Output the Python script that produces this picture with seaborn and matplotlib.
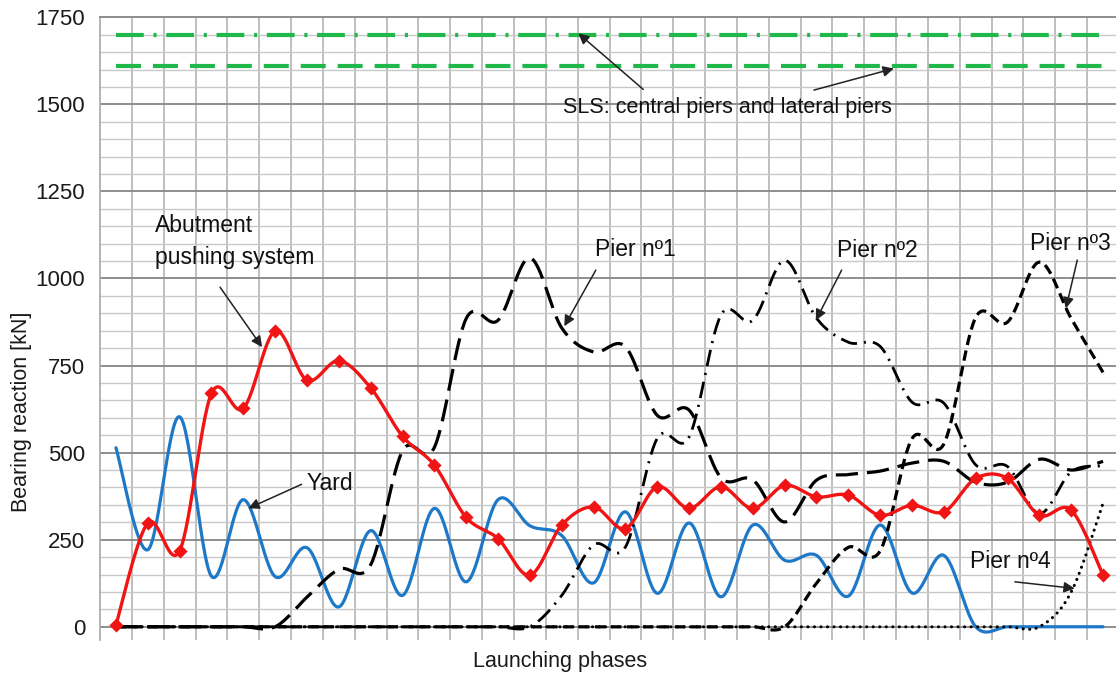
import numpy as np
import matplotlib
matplotlib.use("Agg")
import matplotlib.pyplot as plt
import seaborn as sns
from matplotlib.ticker import MultipleLocator, FixedLocator

# ---------------- data ----------------
phases = list(range(32))
abutment = [5, 298, 218, 670, 627, 849, 708, 764, 686, 547, 464, 314, 253, 148, 292, 344,
            282, 402, 340, 402, 340, 406, 373, 378, 320, 349, 330, 426, 426, 320, 335, 148]
yard = [514, 221, 603, 145, 365, 144, 227, 57, 276, 90, 340, 129, 365, 290, 262, 126,
        330, 96, 298, 86, 292, 191, 205, 88, 292, 97, 205, 0, 0, 0, 0, 0]
pier1 = [0, 0, 0, 0, 0, 0, 85, 165, 178, 505, 515, 885, 880, 1059, 858, 789,
         804, 607, 622, 428, 422, 301, 421, 437, 447, 470, 475, 415, 415, 481, 450, 475]
pier2 = [0, 0, 0, 0, 0, 0, 0, 0, 0, 0, 0, 0, 0, 0, 90, 235,
         229, 541, 545, 895, 880, 1052, 886, 817, 805, 645, 642, 465, 460, 325, 445, 462]
pier3 = [0, 0, 0, 0, 0, 0, 0, 0, 0, 0, 0, 0, 0, 0, 0, 0,
         0, 0, 0, 0, 0, 0, 125, 228, 218, 540, 525, 888, 875, 1047, 885, 730]
pier4 = [0] * 30 + [100, 355]
sls_central = 1700
sls_lateral = 1610
y_ticks = [0, 250, 500, 750, 1000, 1250, 1500, 1750]
y_label = "Bearing reaction [kN]"
x_label = "Launching phases"


def smooth(x, y, n=30):
    """Excel-like smoothed line: cubic Bezier through each data point."""
    x = np.asarray(x, float)
    y = np.asarray(y, float)
    P = np.column_stack([x, y])
    Pe = np.vstack([P[0], P, P[-1]])
    t = np.linspace(0, 1, n, endpoint=False)[:, None]
    out = []
    for i in range(len(P) - 1):
        p0 = Pe[i + 1]
        p3 = Pe[i + 2]
        c1 = p0 + (Pe[i + 2] - Pe[i]) / 6.0
        c2 = p3 - (Pe[i + 3] - Pe[i + 1]) / 6.0
        seg = ((1 - t) ** 3) * p0 + 3 * ((1 - t) ** 2) * t * c1 + 3 * (1 - t) * t ** 2 * c2 + t ** 3 * p3
        out.append(seg)
    out.append(P[-1][None, :])
    out = np.vstack(out)
    return out[:, 0], out[:, 1]


sns.set_style("white")
plt.rcParams["font.family"] = ["Liberation Sans", "DejaVu Sans"]
plt.rcParams["lines.scale_dashes"] = False

fig = plt.figure(figsize=(11.16, 6.75), dpi=100)
ax = fig.add_axes([100 / 1116, 35 / 675, 1019 / 1116, 622.7 / 675])

# grid
ax.set_xlim(-0.5, 31.5)
ax.set_ylim(-38, 1750)
ax.xaxis.set_major_locator(FixedLocator(np.arange(0.5, 31.0, 1.0)))
ax.yaxis.set_major_locator(FixedLocator(y_ticks))
ax.yaxis.set_minor_locator(MultipleLocator(50))
ax.grid(True, axis="x", which="major", color="#b4b4b4", lw=1.2)
ax.grid(True, axis="y", which="minor", color="#c8c8c8", lw=1.0)
ax.grid(True, axis="y", which="major", color="#8e8e8e", lw=1.4)
ax.set_axisbelow(True)
for s in ["right", "bottom"]:
    ax.spines[s].set_visible(False)
ax.spines["left"].set_color("#a8a8a8")
ax.spines["left"].set_linewidth(1.2)
ax.spines["top"].set_color("#8e8e8e")
ax.spines["top"].set_linewidth(1.4)
ax.tick_params(axis="x", which="both", length=0, labelbottom=False)
ax.tick_params(axis="y", which="major", length=3.6, width=1.2, color="#8e8e8e",
               pad=7, labelsize=16, labelcolor="#1a1a1a")
ax.tick_params(axis="y", which="minor", length=0)

# SLS limits
green = "#20b84a"
sns.lineplot(x=phases, y=[sls_central] * len(phases), ax=ax, color=green, lw=3.0,
             linestyle=(0, (20, 7, 2.2, 7)), dash_capstyle="butt", legend=False)
sns.lineplot(x=phases, y=[sls_lateral] * len(phases), ax=ax, color=green, lw=3.0,
             linestyle=(0, (18, 8.6)), dash_capstyle="butt", legend=False)

# Yard (blue)
xs, ys = smooth(phases, yard)
sns.lineplot(x=xs, y=ys, sort=False, estimator=None, ax=ax, color="#1e78c8", lw=2.3, legend=False)

# Piers (black)
xs, ys = smooth(phases, pier1)
sns.lineplot(x=xs, y=ys, sort=False, estimator=None, ax=ax, color="black", lw=2.3,
             linestyle=(0, (16, 6.5)), legend=False)
xs, ys = smooth(phases, pier2)
sns.lineplot(x=xs, y=ys, sort=False, estimator=None, ax=ax, color="black", lw=2.0,
             linestyle=(0, (12, 5, 1.5, 5)), legend=False)
xs, ys = smooth(phases, pier3)
sns.lineplot(x=xs, y=ys, sort=False, estimator=None, ax=ax, color="black", lw=2.3,
             linestyle=(0, (7.5, 4)), legend=False)
xs, ys = smooth(phases, pier4)
sns.lineplot(x=xs, y=ys, sort=False, estimator=None, ax=ax, color="black", lw=2.2,
             linestyle=(0, (0.1, 4.6)), dash_capstyle="round", legend=False)

# Abutment pushing system (red)
xs, ys = smooth(phases, abutment)
sns.lineplot(x=xs, y=ys, sort=False, estimator=None, ax=ax, color="#f01414", lw=2.4, legend=False)
sns.scatterplot(x=phases, y=abutment, ax=ax, color="#f01414", marker="D", s=52,
                linewidth=0, legend=False, zorder=5)

# axis labels
ax.set_xlabel("")
ax.set_ylabel(y_label, fontsize=15.5, color="#1a1a1a")
ax.yaxis.set_label_coords(-0.0665, 0.366)
ax.text(0.451, -0.018, x_label, transform=ax.transAxes, ha="center", va="top",
        fontsize=15.5, color="#1a1a1a")

# annotations
tk = dict(fontsize=16.5, color="#111111", va="baseline", ha="left")
ap = dict(arrowstyle="-|>", color="#222222", lw=1.1, mutation_scale=16, shrinkA=0, shrinkB=0)

ax.text(1.23, 1134, "Abutment", **tk)
ax.text(1.23, 1043, "pushing system", **tk)
ax.annotate("", xy=(4.59, 803), xytext=(3.27, 975), arrowprops=ap)

ax.text(6.0, 392, "Yard", **tk)
ax.annotate("", xy=(4.16, 340), xytext=(5.83, 409), arrowprops=ap)

ax.text(15.04, 1064, "Pier nº1", **tk)
ax.annotate("", xy=(14.08, 863), xytext=(15.07, 1024), arrowprops=ap)

ax.text(22.63, 1062, "Pier nº2", **tk)
ax.annotate("", xy=(21.98, 880), xytext=(22.79, 1024), arrowprops=ap)

ax.text(28.70, 1082, "Pier nº3", **tk)
ax.annotate("", xy=(29.83, 914), xytext=(30.19, 1053), arrowprops=ap)

ax.text(26.82, 170, "Pier nº4", **tk)
ax.annotate("", xy=(30.11, 110), xytext=(28.23, 129), arrowprops=ap)

ax.text(14.05, 1474, "SLS: central piers and lateral piers", fontsize=15.5,
        color="#111111", va="baseline", ha="left")
ax.annotate("", xy=(14.52, 1704), xytext=(16.56, 1543), arrowprops=ap)
ax.annotate("", xy=(24.43, 1603), xytext=(21.92, 1541), arrowprops=ap)

fig.savefig("out.png", dpi=100)
